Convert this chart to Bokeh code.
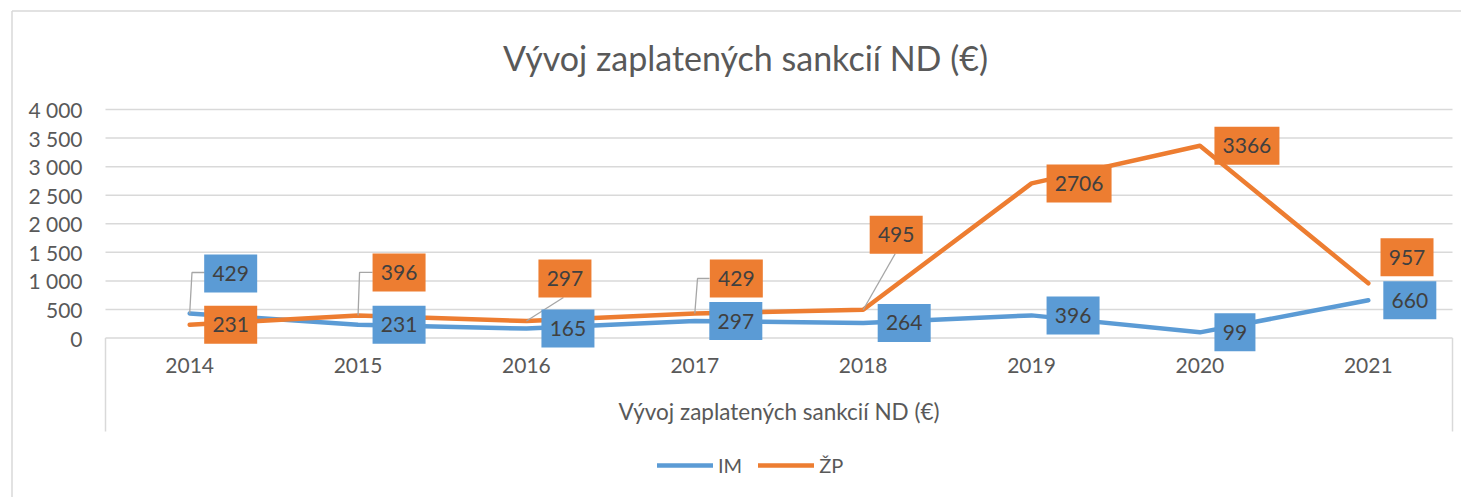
from bokeh.plotting import figure
from bokeh.models import (Range1d, LinearAxis, FixedTicker, Label, Legend, LegendItem,
                          ColumnDataSource)
from bokeh.core.properties import value
from bokeh.embed import file_html
from bokeh.resources import INLINE

# ---------------- data ----------------
years = ["2014", "2015", "2016", "2017", "2018", "2019", "2020", "2021"]
im_values = [429, 231, 165, 297, 264, 396, 99, 660]
zp_values = [231, 396, 297, 429, 495, 2706, 3366, 957]
series_names = ["IM", "ŽP"]
y_ticks = [0, 500, 1000, 1500, 2000, 2500, 3000, 3500, 4000]
y_tick_labels = ["0", "500", "1 000", "1 500", "2 000", "2 500", "3 000", "3 500", "4 000"]
title_text = "Vývoj zaplatených sankcií ND (€)"
axis_title = "Vývoj zaplatených sankcií ND (€)"

# ---------------- label placement (screen pixel offsets from each point) ----------------
im_dx = [41, 41, 41.5, 41, 41, 41.5, 35, 41.5]
im_dy = [-40, 0, 0, 0, 0, 0, 0, 0]
zp_dx = [41, 41, 38.5, 41.5, 33, 47.5, 47, 38.7]
zp_dy = [0, -43, -42.5, -35, -75, 0, 0, -26]
# leader lines: (series, index, list of pixel offsets)
leaders = [
    ("IM", 0, [(0, 0), (2.3, -41), (15, -41)]),
    ("ŽP", 1, [(0, 0), (1.5, -43), (14.5, -43)]),
    ("ŽP", 2, [(0, 0), (37, -23.5)]),
    ("ŽP", 3, [(0, 0), (2.7, -35), (14.7, -35)]),
    ("ŽP", 4, [(0, 0), (32, -56)]),
]

# ---------------- layout geometry ----------------
W, H = 1461, 497
PLOT_LEFT, PLOT_RIGHT = 105, 1452
Y0_PX = 337.5          # pixel of value 0
PX_PER_UNIT_Y = 228.5 / 4000
N = len(years)
PX_PER_CAT = (PLOT_RIGHT - PLOT_LEFT) / N


def px2x(px):
    return (px - PLOT_LEFT) / PX_PER_CAT - 0.5


def py2y(py):
    return (Y0_PX - py) / PX_PER_UNIT_Y


def dx2data(dx):
    return dx / PX_PER_CAT


def dy2data(dy):
    return -dy / PX_PER_UNIT_Y


BLUE = "#5B9BD5"
ORANGE = "#ED7D31"
GRID = "#D9D9D9"
AXIS_TEXT = "#595959"
LABEL_TEXT = "#404040"
FONT = "Lato"

p = figure(width=W, height=H, output_backend="svg", toolbar_location=None,
           x_axis_type=None, y_axis_type=None, min_border=0,
           x_range=Range1d(px2x(0), px2x(W)), y_range=Range1d(py2y(H), py2y(0)))
p.outline_line_color = None
p.xgrid.visible = False
p.ygrid.visible = False
p.background_fill_color = "white"
p.border_fill_color = "white"

# outer chart border (left and top visible)
p.segment(x0=[px2x(11.5), px2x(11.5)], y0=[py2y(10.5), py2y(10.5)],
          x1=[px2x(11.5), px2x(W)], y1=[py2y(H), py2y(10.5)],
          line_color=GRID, line_width=1.5)

# gridlines
p.segment(x0=[-0.5] * len(y_ticks), x1=[N - 0.5] * len(y_ticks), y0=y_ticks, y1=y_ticks,
          line_color=GRID, line_width=1.5)

# multi-level category separators
p.segment(x0=[-0.5, N - 0.5], x1=[-0.5, N - 0.5], y0=[0, 0], y1=[py2y(431), py2y(431)],
          line_color=GRID, line_width=1.5)

# y axis
yaxis = LinearAxis(fixed_location=-0.5, ticker=FixedTicker(ticks=y_ticks))
yaxis.major_label_overrides = {t: l for t, l in zip(y_ticks, y_tick_labels)}
yaxis.axis_line_color = None
yaxis.major_tick_line_color = None
yaxis.minor_tick_line_color = None
yaxis.major_tick_out = 0
yaxis.major_tick_in = 0
yaxis.major_label_standoff = 23
yaxis.major_label_text_font = FONT
yaxis.major_label_text_font_size = "21px"
yaxis.major_label_text_color = AXIS_TEXT
p.add_layout(yaxis, "left")

# x axis
xs = list(range(N))
xaxis = LinearAxis(fixed_location=0, ticker=FixedTicker(ticks=xs), bounds=(-0.5, N - 0.5))
xaxis.major_label_overrides = {i: y for i, y in zip(xs, years)}
xaxis.axis_line_color = None
xaxis.major_tick_line_color = None
xaxis.minor_tick_line_color = None
xaxis.major_tick_out = 0
xaxis.major_tick_in = 0
xaxis.major_label_standoff = 20
xaxis.major_label_text_font = FONT
xaxis.major_label_text_font_size = "21px"
xaxis.major_label_text_color = AXIS_TEXT
xaxis.axis_label = axis_title
xaxis.axis_label_standoff = 21
xaxis.axis_label_text_font = FONT
xaxis.axis_label_text_font_size = "22.5px"
xaxis.axis_label_text_font_style = "normal"
xaxis.axis_label_text_color = AXIS_TEXT
p.add_layout(xaxis, "below")

# series lines
r_im = p.line(xs, im_values, line_color=BLUE, line_width=4.5, line_join="round", line_cap="round")
r_zp = p.line(xs, zp_values, line_color=ORANGE, line_width=4.5, line_join="round", line_cap="round")

# leader lines
vals = {"IM": im_values, "ŽP": zp_values}
lx, ly = [], []
for s, i, pts in leaders:
    v = vals[s][i]
    lx.append([i + dx2data(a) for a, b in pts])
    ly.append([v + dy2data(b) for a, b in pts])
p.multi_line(lx, ly, line_color="#A6A6A6", line_width=1.3)

# data labels (boxes + text)
for values, dxs, dys, color in [(im_values, im_dx, im_dy, BLUE), (zp_values, zp_dx, zp_dy, ORANGE)]:
    texts = [str(v) for v in values]
    cx = [i + dx2data(d) for i, d in enumerate(dxs)]
    cy = [v + dy2data(d) for v, d in zip(values, dys)]
    widths = [12 * len(t) + 17 for t in texts]
    src = ColumnDataSource(dict(x=cx, y=cy, t=texts, w=widths))
    p.rect(x="x", y="y", width="w", height=38, width_units="screen", height_units="screen",
           source=src, fill_color=color, line_color=None)
    p.text(x="x", y="y", text="t", source=src, text_align="center", text_baseline="middle",
           text_font=value(FONT), text_font_size="21px", text_color=LABEL_TEXT)

# title
p.add_layout(Label(x=px2x(745), y=py2y(57), text=title_text, text_align="center",
                   text_baseline="middle", text_font=FONT, text_font_size="34px",
                   text_color=AXIS_TEXT))

# legend
legend = Legend(items=[LegendItem(label=series_names[0], renderers=[r_im]),
                       LegendItem(label=series_names[1], renderers=[r_zp])],
                orientation="horizontal", location=(657, 20),
                glyph_width=56, glyph_height=20, label_height=20, label_standoff=5,
                spacing=16, padding=0, margin=0, border_line_color=None,
                background_fill_alpha=0, label_text_font=FONT,
                label_text_font_size="20px", label_text_color=AXIS_TEXT)
p.add_layout(legend)

open("out.html", "w").write(file_html(p, INLINE))
